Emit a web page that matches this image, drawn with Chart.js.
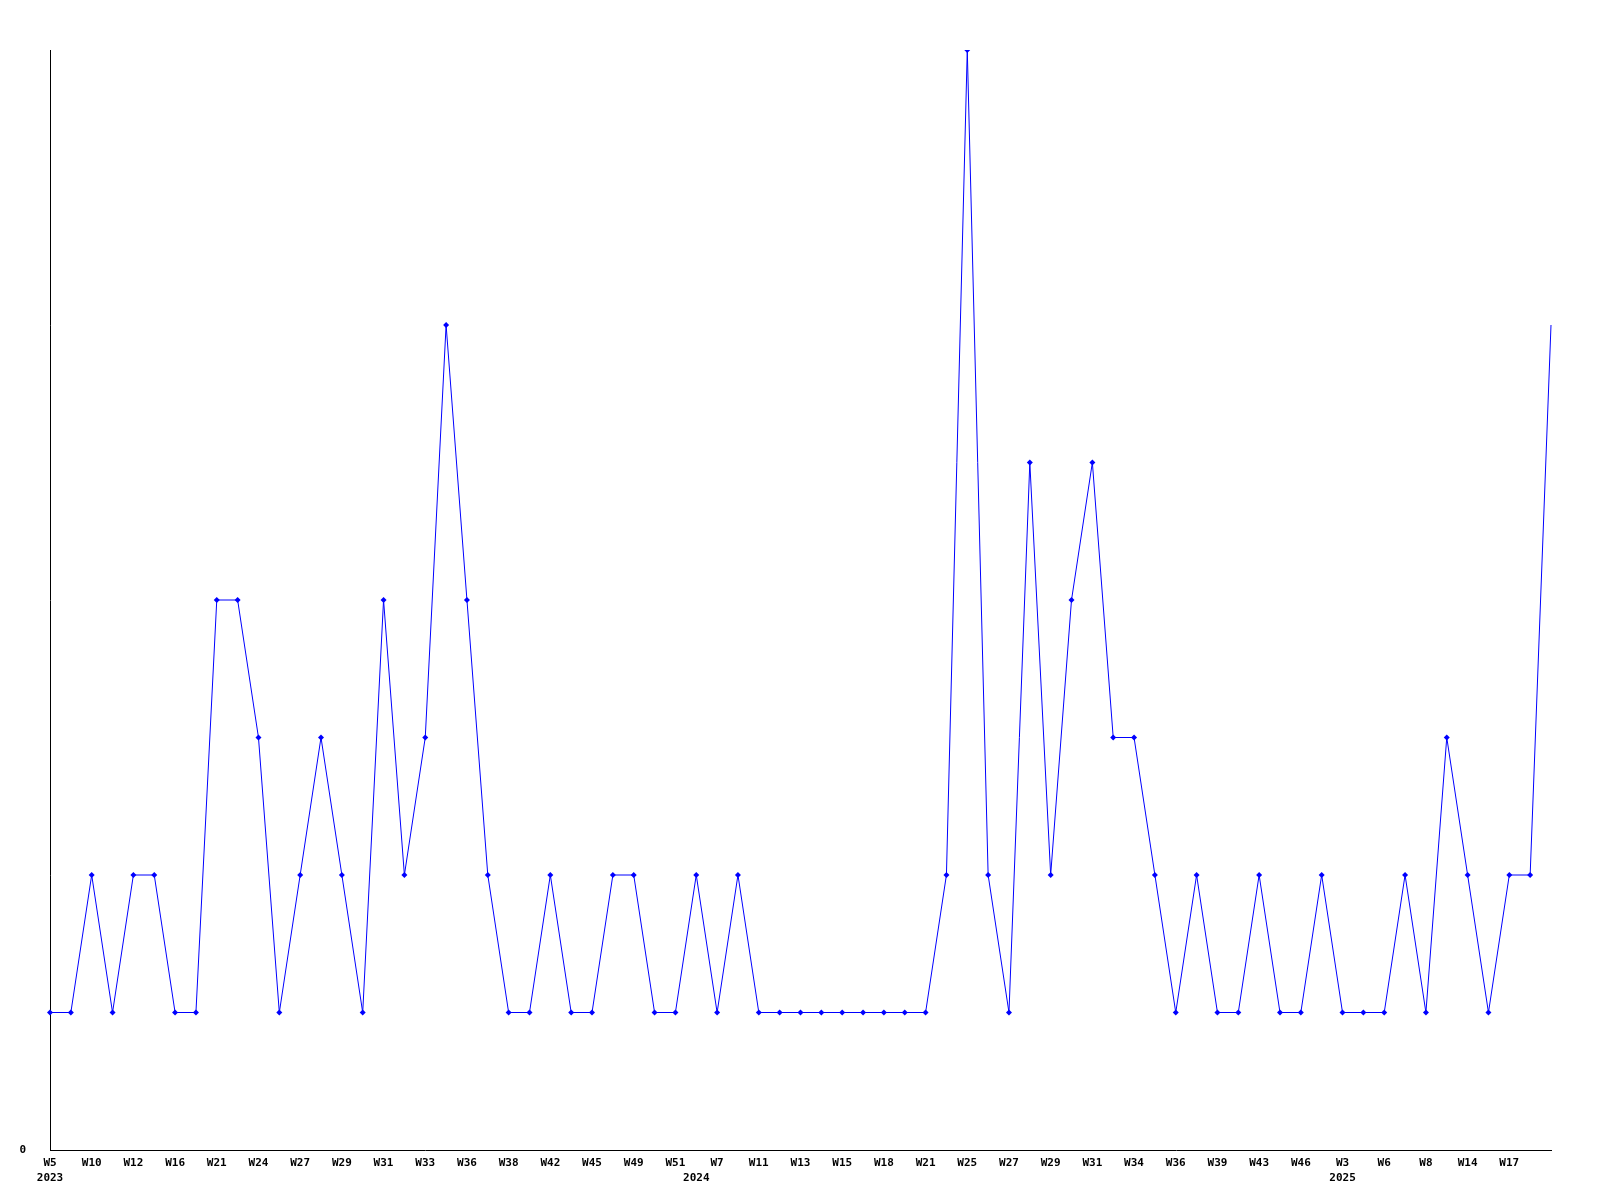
<!DOCTYPE html>
<html>
<head>
<meta charset="utf-8">
<script src="https://cdn.jsdelivr.net/npm/chart.js@4/dist/chart.umd.min.js"></script>
<style>
  body { margin: 0; background: #fff; }
  canvas { display: block; }
</style>
</head>
<body>
<canvas id="myChart" width="1600" height="1200"></canvas>
<script>
// semaines (seules les paires sont affichées sur l'axe)
const weeks = [
  "W5", "W8", "W10", "W11", "W12", "W14", "W16", "W19", "W21", "W22",
  "W24", "W25", "W27", "W28", "W29", "W30", "W31", "W32", "W33", "W34",
  "W36", "W37", "W38", "W40", "W42", "W44", "W45", "W47", "W49", "W50",
  "W51", "W2", "W7", "W9", "W11", "W12", "W13", "W14", "W15", "W17",
  "W18", "W20", "W21", "W23", "W25", "W26", "W27", "W28", "W29", "W30",
  "W31", "W33", "W34", "W35", "W36", "W38", "W39", "W41", "W43", "W45",
  "W46", "W48", "W3", "W4", "W6", "W7", "W8", "W11", "W14", "W16",
  "W17", "W18", "W20"
];
const counts = [
  1, 1, 2, 1, 2, 2, 1, 1, 4, 4,
  3, 1, 2, 3, 2, 1, 4, 2, 3, 6,
  4, 2, 1, 1, 2, 1, 1, 2, 2, 1,
  1, 2, 1, 2, 1, 1, 1, 1, 1, 1,
  1, 1, 1, 2, 8, 2, 1, 5, 2, 4,
  5, 3, 3, 2, 1, 2, 1, 1, 2, 1,
  1, 2, 1, 1, 1, 2, 1, 3, 2, 1,
  2, 2, 6
];
// début de chaque année (index dans weeks)
const yearStarts = [0, 31, 62];
const years = ["2023", "2024", "2025"];

const tickFont = { family: "'DejaVu Sans Mono', monospace", size: 11, weight: "bold", lineHeight: 1.4 };
const lastIdx = counts.length - 1;

const ctx = document.getElementById("myChart").getContext("2d");
new Chart(ctx, {
  type: "line",
  data: {
    labels: weeks,
    datasets: [
      {
        data: counts,
        borderColor: "#0000ff",
        backgroundColor: "#0000ff",
        borderWidth: 1,
        tension: 0,
        fill: false,
        pointStyle: "rectRot",
        pointRadius: (c) => (c.dataIndex === lastIdx ? 0 : 3),
        pointBorderWidth: 0,
        pointBackgroundColor: "#0000ff",
      },
    ],
  },
  options: {
    responsive: false,
    animation: false,
    layout: { padding: { top: 50, right: 49, left: 0, bottom: 0 } },
    plugins: {
      legend: { display: false },
      tooltip: { enabled: false },
    },
    scales: {
      x: {
        offset: false,
        grid: { display: false },
        border: { color: "#000", width: 1 },
        afterFit: (scale) => { scale.height = 50; },
        ticks: {
          autoSkip: false,
          maxRotation: 0,
          minRotation: 0,
          padding: -3,
          color: "#000",
          font: tickFont,
          callback: function (val, idx) {
            const w = idx % 2 === 0 && idx < lastIdx ? weeks[idx] : "";
            const y = yearStarts.indexOf(idx);
            if (y >= 0) return [w, years[y]];
            return w;
          },
        },
      },
      y: {
        min: 0,
        max: 8,
        grid: { display: false },
        border: { color: "#000", width: 1 },
        afterFit: (scale) => { scale.width = 50; },
        ticks: {
          stepSize: 8,
          padding: 16,
          color: "#000",
          font: { family: "'DejaVu Sans Mono', monospace", size: 11, weight: "bold" },
          callback: (v) => (v === 0 ? "0" : ""),
        },
      },
    },
  },
});
</script>
</body>
</html>
